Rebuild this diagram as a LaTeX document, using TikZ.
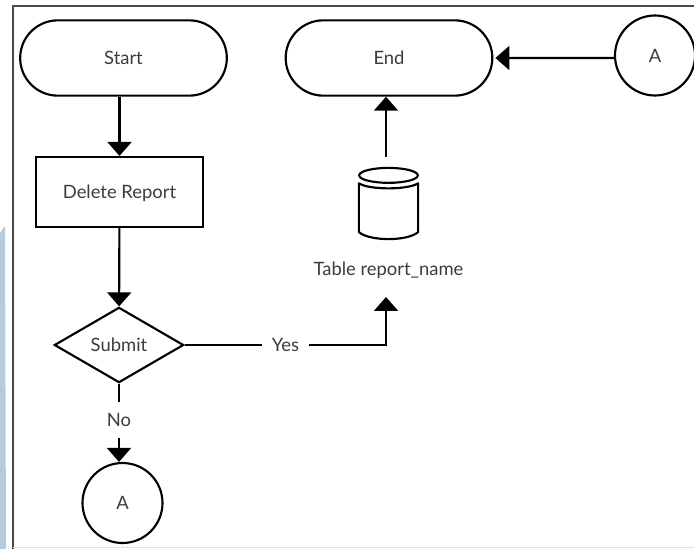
\documentclass[tikz,border=0pt]{standalone}
\usepackage{fontspec}
\setmainfont{Lato}
\usetikzlibrary{positioning,shapes.geometric,shapes.misc,arrows.meta}
\definecolor{txtgray}{HTML}{3C3C3C}
\definecolor{stripblue}{HTML}{B9CAD9}
\definecolor{framegray}{HTML}{4A4A4A}
\tikzset{
	txt/.style={text=txtgray, font=\fontsize{13.8}{16}\selectfont, text height=11.5pt, text depth=1.5pt},
	shapeline/.style={txt, draw=black, line width=1.6pt, fill=white, inner sep=0pt},
	terminal/.style={shapeline, rounded rectangle, minimum width=155pt, minimum height=56.5pt},
	process/.style={shapeline, rectangle, minimum width=125pt, minimum height=52.5pt},
	decision/.style={shapeline, diamond, aspect=1.72, minimum width=97pt, minimum height=56.5pt},
	connector/.style={shapeline, circle, minimum size=60pt},
	label/.style={txt, inner sep=7pt},
	flow/.style={line width=1.6pt, -{Triangle[width=18pt,length=10.5pt]}},
	plain/.style={line width=1.6pt},
}
\begin{document}
\begin{tikzpicture}[x=0.75pt, y=-0.75pt]
	\useasboundingbox (0,0) rectangle (694,549);
	\fill[white] (0,0) rectangle (694,549);
	\fill[stripblue] (0,233) -- (5,226) -- (6,549) -- (0,549) -- cycle;
	\draw[framegray, line width=0.9pt] (13,549) -- (13,6) -- (694,6);
	\draw[black!12, line width=0.5pt] (13,547.5) -- (694,547.5);

	\node[terminal] (start) at (123.5,58) {Start};
	\node[terminal] (end) at (389,58) {End};
	\node[connector] (a2) at (655,55.5) {A};
	\node[process] (report) at (119.5,192) {Delete Report};
	\node[decision] (submit) at (119,345) {Submit};
	\node[connector] (a1) at (122.5,503) {A};
	\node[minimum width=44pt, minimum height=53pt, inner sep=0pt] (db) at (388.5,203.5) {};
	\node[label] (tablename) at (388.5,269) {Table report\_name};
	\node[label] (yes) at (285.5,345) {Yes};
	\node[label] (no) at (119,420) {No};
	\coordinate (dbtop) at (386,157);
	\coordinate (yesup) at (386,297);

	% body and lid of the table
	\draw[plain, line join=round] ([yshift=-11.6pt]db.north west) .. controls +(8pt,-5pt) and +(-8pt,-5pt) .. ([yshift=-11.6pt]db.north east)
		-- ([yshift=5.25pt]db.south east) .. controls +(-8pt,-7pt) and +(8pt,-7pt) .. ([yshift=5.25pt]db.south west) -- cycle;
	\draw[plain, fill=white] ([yshift=-5.6pt]db.north) ellipse (22pt and 5.6pt);

	\draw[flow] (report |- start.south) -- (report);
	\draw[flow] (report) -- (submit);
	\draw[plain] (submit) -- (yes);
	\draw[flow] (yes) -| (yesup);
	\draw[plain] (submit) -- (no);
	\draw[flow] (no) -- (submit |- a1.north);
	\draw[flow] (dbtop) -- (dbtop |- end.south);
	\draw[flow, shorten >=1.5pt] (a2.west |- end) -- (end);
\end{tikzpicture}
\end{document}
